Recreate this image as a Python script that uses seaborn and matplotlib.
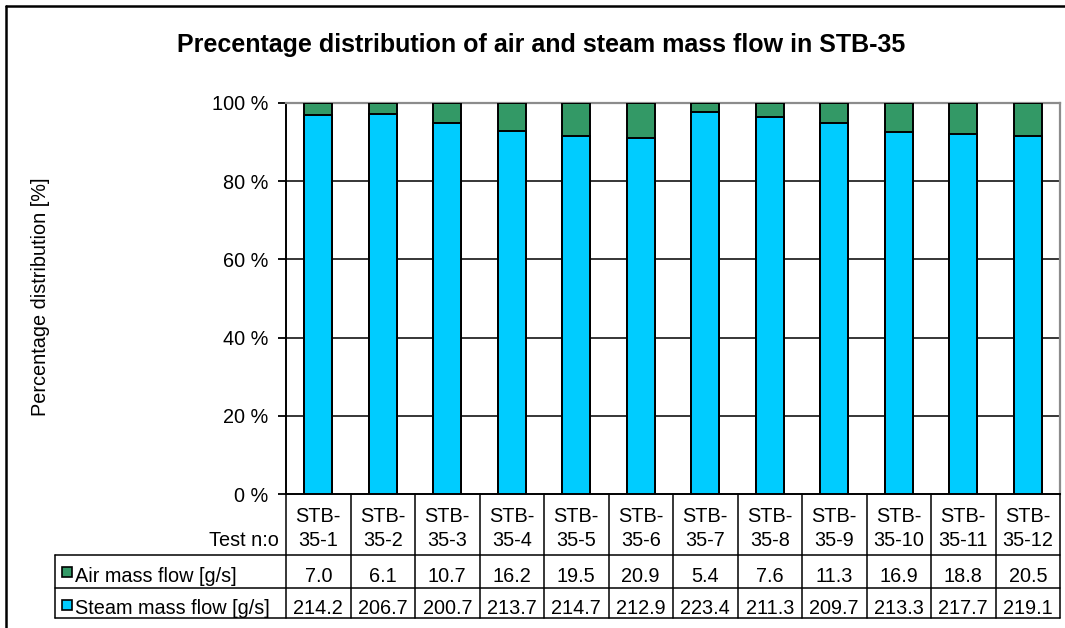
import matplotlib
matplotlib.use("Agg")
import matplotlib.pyplot as plt
import numpy as np
import pandas as pd
import seaborn as sns
from matplotlib import transforms
from matplotlib.lines import Line2D
from matplotlib.patches import Rectangle

# ---- data -------------------------------------------------------------
tests = ["STB-35-1", "STB-35-2", "STB-35-3", "STB-35-4", "STB-35-5", "STB-35-6",
         "STB-35-7", "STB-35-8", "STB-35-9", "STB-35-10", "STB-35-11", "STB-35-12"]
header_labels = ["STB-\n35-1", "STB-\n35-2", "STB-\n35-3", "STB-\n35-4", "STB-\n35-5",
                 "STB-\n35-6", "STB-\n35-7", "STB-\n35-8", "STB-\n35-9", "STB-\n35-10",
                 "STB-\n35-11", "STB-\n35-12"]
air_flow = [7.0, 6.1, 10.7, 16.2, 19.5, 20.9, 5.4, 7.6, 11.3, 16.9, 18.8, 20.5]
steam_flow = [214.2, 206.7, 200.7, 213.7, 214.7, 212.9, 223.4, 211.3, 209.7, 213.3, 217.7, 219.1]
y_ticks = [0, 20, 40, 60, 80, 100]
y_tick_labels = ["0 %", "20 %", "40 %", "60 %", "80 %", "100 %"]

AIR_COLOR = "#339966"
STEAM_COLOR = "#00CCFF"

df = pd.DataFrame({"test": tests, "air": air_flow, "steam": steam_flow})
df["total"] = df["air"] + df["steam"]
df["steam_pct"] = df["steam"] / df["total"] * 100
df["stack_top"] = (df["air"] + df["steam"]) / df["total"] * 100

# ---- style ------------------------------------------------------------
sns.set_theme(style="white")
plt.rcParams["font.family"] = ["Liberation Sans", "DejaVu Sans"]
plt.rcParams["text.color"] = "black"
FS = 14.3

W, H = 1065, 628
fig = plt.figure(figsize=(W / 100, H / 100), dpi=100)
fig.patch.set_facecolor("white")


def fx(px):
    return px / W


def fy(py):
    return 1 - py / H


AX_L, AX_R, AX_T, AX_B = 286, 1060, 103, 494
ax = fig.add_axes([fx(AX_L), fy(AX_B), fx(AX_R) - fx(AX_L), (AX_B - AX_T) / H])
ax.set_facecolor("white")

# stacked 100 % columns: full column in air colour, steam part drawn on top
bar_kw = dict(width=0.435, edgecolor="black", linewidth=1.4, saturation=1,
              errorbar=None, ax=ax, zorder=3)
sns.barplot(data=df, x="test", y="stack_top", color=AIR_COLOR, **bar_kw)
sns.barplot(data=df, x="test", y="steam_pct", color=STEAM_COLOR, **bar_kw)

ax.set_xlim(-0.5, len(tests) - 0.5)
ax.set_ylim(0, 100)
ax.set_xlabel("")
ax.set_ylabel("")
ax.set_xticks(range(len(tests)))
ax.set_xticklabels([])
ax.tick_params(axis="x", length=0)
ax.set_yticks(y_ticks)
ax.set_yticklabels(y_tick_labels, fontsize=FS, color="black")
ax.tick_params(axis="y", direction="out", length=6, width=1.3, color="black",
               pad=7, left=True)

for v in y_ticks[1:-1]:
    ax.axhline(v, color="black", lw=1.1, zorder=1)

for side in ["left", "bottom"]:
    ax.spines[side].set_color("black")
    ax.spines[side].set_linewidth(1.4)
for side in ["top", "right"]:
    ax.spines[side].set_color("#8c8c8c")
    ax.spines[side].set_linewidth(1.6)

# ---- titles -----------------------------------------------------------
fig.text(fx(541), fy(45), "Precentage distribution of air and steam mass flow in STB-35",
         ha="center", va="center", fontsize=18, fontweight="bold", color="black")
fig.text(fx(41), fy(297), "Percentage distribution [%]", rotation=90,
         ha="center", va="center", fontsize=FS, color="black")

# ---- data table below the plot -----------------------------------------
blend = transforms.blended_transform_factory(ax.transData, fig.transFigure)
LINE_KW = dict(color="black", lw=1.1)
ROW_TOP, ROW_MID, ROW_BOT = 555, 588, 618
TBL_L = 55

# horizontal rules
for py in (ROW_TOP, ROW_MID, ROW_BOT):
    fig.add_artist(Line2D([fx(TBL_L), fx(AX_R)], [fy(py), fy(py)], **LINE_KW))
# outer vertical rule of the label column
fig.add_artist(Line2D([fx(TBL_L), fx(TBL_L)], [fy(ROW_TOP), fy(ROW_BOT)], **LINE_KW))
# category boundaries
for i in range(len(tests) + 1):
    fig.add_artist(Line2D([i - 0.5, i - 0.5], [fy(AX_B), fy(ROW_BOT)],
                          transform=blend, **LINE_KW))

fig.text(fx(279), fy(546), "Test n:o", ha="right", va="baseline", fontsize=FS)

for i, lab in enumerate(header_labels):
    top, bottom = lab.split("\n")
    ax.text(i, fy(522), top, transform=blend, ha="center", va="baseline", fontsize=FS)
    ax.text(i, fy(546), bottom, transform=blend, ha="center", va="baseline", fontsize=FS)
    ax.text(i, fy(582), f"{air_flow[i]:.1f}", transform=blend,
            ha="center", va="baseline", fontsize=FS)
    ax.text(i, fy(614), f"{steam_flow[i]:.1f}", transform=blend,
            ha="center", va="baseline", fontsize=FS)

rows = [("Air mass flow [g/s]", AIR_COLOR, 567, 582),
        ("Steam mass flow [g/s]", STEAM_COLOR, 600, 614)]
for label, col, sq_top, base in rows:
    fig.add_artist(Rectangle((fx(62), fy(sq_top + 10)), 10 / W, 10 / H,
                             transform=fig.transFigure, facecolor=col,
                             edgecolor="black", lw=1.2))
    fig.text(fx(75), fy(base), label, ha="left", va="baseline", fontsize=FS)

# chart frame
fig.add_artist(Line2D([fx(6), fx(W)], [fy(6), fy(6)], color="black", lw=1.8))
fig.add_artist(Line2D([fx(6), fx(6)], [fy(6), fy(H)], color="black", lw=1.8))

fig.savefig("out.png", dpi=100, facecolor="white")
